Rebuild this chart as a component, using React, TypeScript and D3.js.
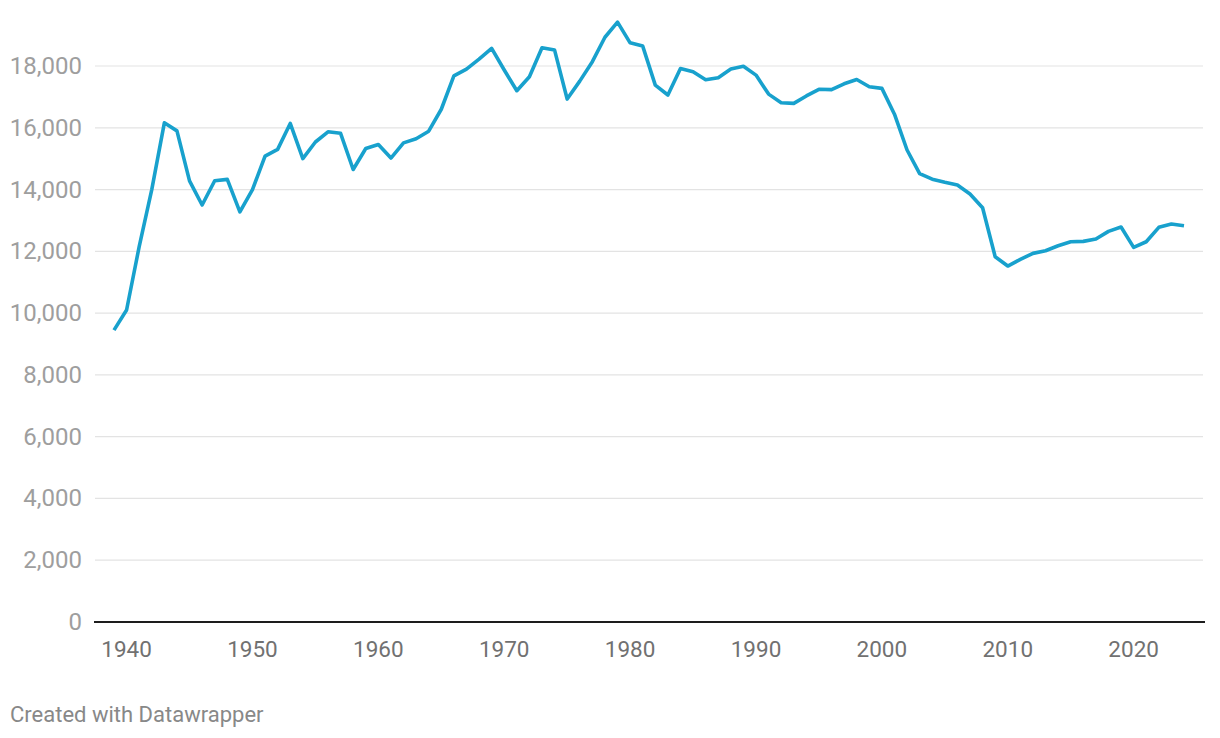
import React from "react";
import * as d3 from "d3";

const years: number[] = d3.range(1939, 2025);
const values: number[] = [
  9450, 10100, 12150, 14000, 16160, 15900, 14280, 13500, 14285, 14330,
  13280, 14000, 15080, 15300, 16140, 15000, 15540, 15870, 15820, 14650,
  15330, 15460, 15020, 15510, 15645, 15890, 16600, 17680, 17900, 18220,
  18570, 17870, 17200, 17650, 18590, 18515, 16930, 17510, 18140, 18930,
  19420, 18750, 18645, 17380, 17060, 17920, 17815, 17555, 17620, 17900,
  17990, 17705, 17090, 16810, 16790, 17030, 17245, 17235, 17425, 17565,
  17330, 17276, 16440, 15280, 14515, 14335, 14233, 14146, 13855, 13411,
  11825, 11524, 11740, 11934, 12020, 12181, 12310, 12323, 12398, 12647,
  12786, 12129, 12310, 12776, 12883, 12828,
];
const yTicks: number[] = [0, 2000, 4000, 6000, 8000, 10000, 12000, 14000, 16000, 18000];
const xTicks: number[] = [1940, 1950, 1960, 1970, 1980, 1990, 2000, 2010, 2020];
const credit = "Created with Datawrapper";

export default function App() {
  const W = 1220;
  const H = 738;
  const x = d3.scaleLinear().domain([1939, 2024]).range([114, 1184]);
  const y = d3.scaleLinear().domain([0, 18000]).range([622, 66]);
  const data = years.map((yr, i) => ({ yr, v: values[i] }));
  const line = d3
    .line<{ yr: number; v: number }>()
    .x((d) => x(d.yr))
    .y((d) => y(d.v));
  const fmt = d3.format(",");
  const font = "Roboto, 'Noto Sans', sans-serif";

  return (
    <svg
      width={W}
      height={H}
      style={{ position: "absolute", left: 0, top: 0, background: "#fff" }}
      fontFamily={font}
    >
      {yTicks.map((t) => (
        <g key={t}>
          {t !== 0 && (
            <line x1={95} x2={1203} y1={y(t)} y2={y(t)} stroke="#e3e3e3" strokeWidth={1.2} />
          )}
          <text
            x={82}
            y={y(t)}
            textAnchor="end"
            dominantBaseline="central"
            fontSize={24}
            fill="#9e9e9e"
          >
            {fmt(t)}
          </text>
        </g>
      ))}
      <line x1={94} x2={1205} y1={y(0)} y2={y(0)} stroke="#1d1d1d" strokeWidth={2.2} />
      {xTicks.map((t) => (
        <text
          key={t}
          x={x(t)}
          y={657}
          textAnchor="middle"
          fontSize={22.5}
          fill="#717171"
        >
          {t}
        </text>
      ))}
      <path
        d={line(data) || ""}
        fill="none"
        stroke="#18a1cd"
        strokeWidth={3.6}
        strokeLinejoin="round"
        strokeLinecap="butt"
      />
      <text x={10} y={722} fontSize={22} fill="#888888">
        {credit}
      </text>
    </svg>
  );
}
